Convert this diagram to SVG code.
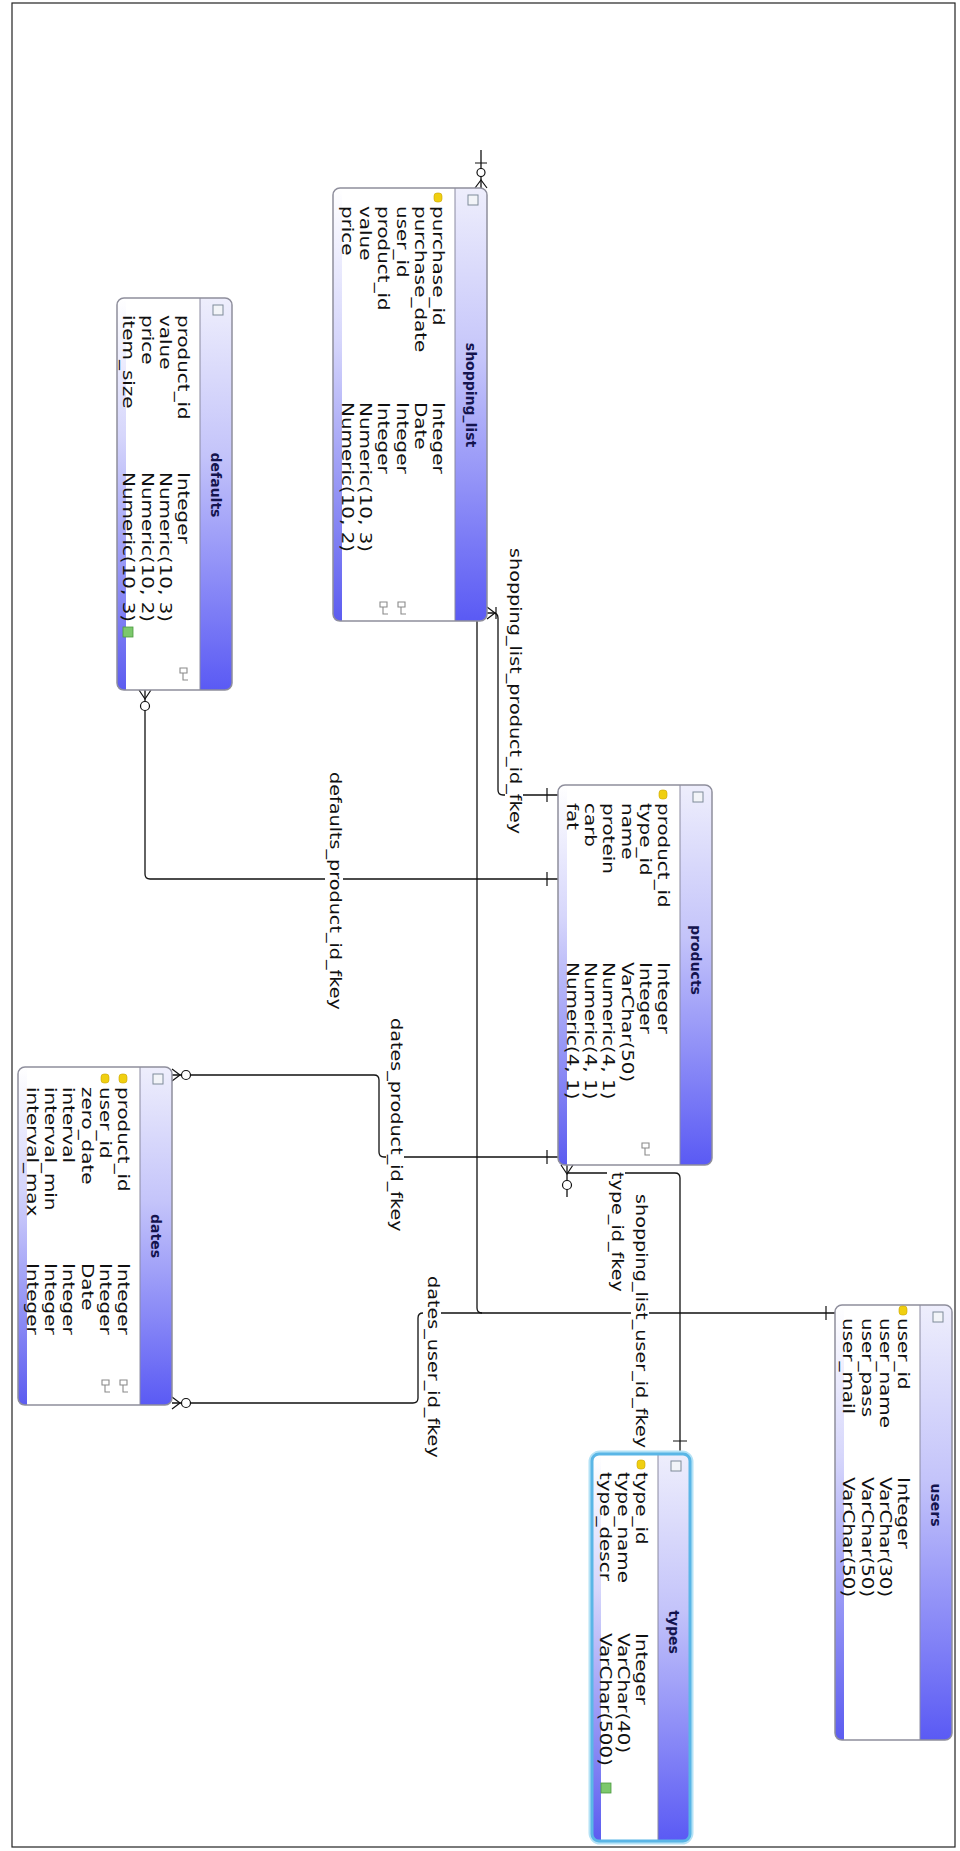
<svg xmlns="http://www.w3.org/2000/svg" width="960" height="1851" viewBox="0 0 960 1851">
<defs>
<linearGradient id="hg" x1="0" y1="0" x2="0" y2="1"><stop offset="0" stop-color="#eeeefc"/><stop offset="0.4" stop-color="#c4c4fa"/><stop offset="1" stop-color="#5a5af4"/></linearGradient>
<linearGradient id="sg" x1="0" y1="0" x2="0" y2="1"><stop offset="0" stop-color="#ffffff"/><stop offset="0.35" stop-color="#d6d6fb"/><stop offset="1" stop-color="#5c5cf0"/></linearGradient>
</defs>
<style>
.frame{fill:#fff;stroke:#222;stroke-width:1.2}
.body{fill:#fff}
.outline{fill:none;stroke:#8e8e9c;stroke-width:1.5}
.hdr{fill:url(#hg)}
.strip{fill:url(#sg)}
.sep{stroke:#8a8aa0;stroke-width:1}
.r{font-family:"DejaVu Sans",Verdana,sans-serif;font-size:15px;fill:#111}
.t{font-family:"DejaVu Sans",sans-serif;font-weight:bold;font-size:14px;fill:#14144e;text-anchor:middle}
.l{font-family:"DejaVu Sans",sans-serif;font-size:15px;fill:#111}
.lbg{fill:#fff}
.ln{fill:none;stroke:#111;stroke-width:1.3}
.mk{fill:none;stroke:#111;stroke-width:1.2}
.mc{fill:#fff;stroke:#111;stroke-width:1.2}
.key{fill:#f0cf10;stroke:#c9a400;stroke-width:0.6}
.tic{fill:#f2f4f8;stroke:#7f8b99;stroke-width:1}
.fk{fill:none;stroke:#8a8a8a;stroke-width:1.1}
.nn{fill:#7cc86c;stroke:#4c9a40;stroke-width:0.8}
.glow1{fill:none;stroke:#b4e2f6;stroke-width:7}
.glow2{fill:none;stroke:#5ab6e6;stroke-width:3}
</style>
<rect x="0" y="0" width="960" height="1851" fill="#fff"/>
<rect class="frame" x="12" y="3" width="943" height="1844"/>

<g id="connectors">
  <path class="ln" d="M481,150 V188"/>
  <path class="mk" d="M475,163 H487 M475,188 L481,180 L487,188"/>
  <circle class="mc" cx="481" cy="172.5" r="4"/>
  <path class="ln" d="M477,621 V1308 Q477,1313 482,1313 H835"/>
  <path class="ln" d="M487,613 H493 Q498,613 498,618 V790 Q498,795 503,795 H558"/>
  <path class="mk" d="M487,607 L495,613 L487,619 M496,607 V619"/>
  <path class="ln" d="M145,690 V874 Q145,879 150,879 H558"/>
  <path class="mk" d="M139,690 L145,699 L151,690"/>
  <circle class="mc" cx="145" cy="706" r="4.5"/>
  <path class="ln" d="M172,1075 H374 Q379,1075 379,1080 V1152 Q379,1157 384,1157 H558"/>
  <path class="mk" d="M172,1069 L180,1075 L172,1081"/>
  <circle class="mc" cx="186" cy="1075" r="4.5"/>
  <path class="ln" d="M172,1403 H413 Q418,1403 418,1398 V1318 Q418,1313 423,1313 H482"/>
  <path class="mk" d="M172,1397 L180,1403 L172,1409"/>
  <circle class="mc" cx="186" cy="1403" r="4.5"/>
  <path class="ln" d="M567,1165 V1197 M567,1173 H675 Q680,1173 680,1178 V1454"/>
  <path class="mk" d="M561,1165 L567,1174 L573,1165"/>
  <circle class="mc" cx="567" cy="1185" r="4.5"/>
  <path class="mk" d="M547,788 V802 M547,872 V886 M547,1150 V1164 M826,1306 V1320 M673,1441 H687"/>
  <rect class="lbg" x="505" y="546" width="18" height="292"/>
  <text class="l" transform="translate(510,548) rotate(90) scale(1.28,1)">shopping_list_product_id_fkey</text>
  <rect class="lbg" x="325" y="770" width="18" height="243"/>
  <text class="l" transform="translate(330,772) rotate(90) scale(1.28,1)">defaults_product_id_fkey</text>
  <rect class="lbg" x="386" y="1016" width="18" height="219"/>
  <text class="l" transform="translate(391,1018) rotate(90) scale(1.28,1)">dates_product_id_fkey</text>
  <rect class="lbg" x="423" y="1274" width="18" height="187"/>
  <text class="l" transform="translate(428,1276) rotate(90) scale(1.28,1)">dates_user_id_fkey</text>
  <rect class="lbg" x="607" y="1170" width="18" height="125"/>
  <text class="l" transform="translate(612,1172) rotate(90) scale(1.28,1)">type_id_fkey</text>
  <rect class="lbg" x="631" y="1192" width="18" height="260"/>
  <text class="l" transform="translate(636,1194) rotate(90) scale(1.28,1)">shopping_list_user_id_fkey</text>
</g>

<g id="shopping_list">
  <rect class="body" x="333" y="188" width="154" height="433" rx="7"/>
  <rect class="strip" x="333" y="188" width="9" height="433" rx="7"/>
  <rect class="strip" x="337" y="188" width="5" height="433"/>
  <rect class="hdr" x="455" y="188" width="32" height="433" rx="7"/>
  <rect class="hdr" x="455" y="188" width="14" height="433"/>
  <line class="sep" x1="455" y1="188" x2="455" y2="621"/>
  <rect class="outline" x="333" y="188" width="154" height="433" rx="7"/>
  <rect class="tic" x="468" y="195" width="10" height="10"/>
  <text class="t" transform="translate(466,395) rotate(90)">shopping_list</text>
  <rect class="key" x="434" y="193" width="8" height="9" rx="3"/>
  <text class="r" transform="translate(433,206) rotate(90) scale(1.33,1)">purchase_id</text>
  <text class="r" transform="translate(415,206) rotate(90) scale(1.33,1)">purchase_date</text>
  <text class="r" transform="translate(396.5,206) rotate(90) scale(1.33,1)">user_id</text>
  <text class="r" transform="translate(378,206) rotate(90) scale(1.33,1)">product_id</text>
  <text class="r" transform="translate(360,206) rotate(90) scale(1.33,1)">value</text>
  <text class="r" transform="translate(341.5,206) rotate(90) scale(1.33,1)">price</text>
  <text class="r" transform="translate(433,402) rotate(90) scale(1.33,1)">Integer</text>
  <text class="r" transform="translate(415,402) rotate(90) scale(1.33,1)">Date</text>
  <text class="r" transform="translate(396.5,402) rotate(90) scale(1.33,1)">Integer</text>
  <text class="r" transform="translate(378,402) rotate(90) scale(1.33,1)">Integer</text>
  <text class="r" transform="translate(360,402) rotate(90) scale(1.33,1)">Numeric(10, 3)</text>
  <text class="r" transform="translate(341.5,402) rotate(90) scale(1.33,1)">Numeric(10, 2)</text>
  <path class="fk" d="M398,602 h7 v5 h-7 z M401,607 v7 h5"/>
  <path class="fk" d="M380,602 h7 v5 h-7 z M383,607 v7 h5"/>
</g>

<g id="defaults">
  <rect class="body" x="117" y="298" width="115" height="392" rx="7"/>
  <rect class="strip" x="117" y="298" width="9" height="392" rx="7"/>
  <rect class="strip" x="121" y="298" width="5" height="392"/>
  <rect class="hdr" x="200" y="298" width="32" height="392" rx="7"/>
  <rect class="hdr" x="200" y="298" width="14" height="392"/>
  <line class="sep" x1="200" y1="298" x2="200" y2="690"/>
  <rect class="outline" x="117" y="298" width="115" height="392" rx="7"/>
  <rect class="tic" x="213" y="305" width="10" height="10"/>
  <text class="t" transform="translate(211,485) rotate(90)">defaults</text>
  <text class="r" transform="translate(178,315) rotate(90) scale(1.33,1)">product_id</text>
  <text class="r" transform="translate(160,315) rotate(90) scale(1.33,1)">value</text>
  <text class="r" transform="translate(141.5,315) rotate(90) scale(1.33,1)">price</text>
  <text class="r" transform="translate(123,315) rotate(90) scale(1.33,1)">item_size</text>
  <text class="r" transform="translate(178,472) rotate(90) scale(1.33,1)">Integer</text>
  <text class="r" transform="translate(160,472) rotate(90) scale(1.33,1)">Numeric(10, 3)</text>
  <text class="r" transform="translate(141.5,472) rotate(90) scale(1.33,1)">Numeric(10, 2)</text>
  <text class="r" transform="translate(123,472) rotate(90) scale(1.33,1)">Numeric(10, 3)</text>
  <rect class="nn" x="123" y="627" width="10" height="10"/>
  <path class="fk" d="M180,668 h7 v5 h-7 z M183,673 v7 h5"/>
</g>

<g id="products">
  <rect class="body" x="558" y="785" width="154" height="380" rx="7"/>
  <rect class="strip" x="558" y="785" width="9" height="380" rx="7"/>
  <rect class="strip" x="562" y="785" width="5" height="380"/>
  <rect class="hdr" x="680" y="785" width="32" height="380" rx="7"/>
  <rect class="hdr" x="680" y="785" width="14" height="380"/>
  <line class="sep" x1="680" y1="785" x2="680" y2="1165"/>
  <rect class="outline" x="558" y="785" width="154" height="380" rx="7"/>
  <rect class="tic" x="693" y="792" width="10" height="10"/>
  <text class="t" transform="translate(691,960) rotate(90)">products</text>
  <rect class="key" x="659" y="790" width="8" height="9" rx="3"/>
  <text class="r" transform="translate(658,803) rotate(90) scale(1.33,1)">product_id</text>
  <text class="r" transform="translate(640,803) rotate(90) scale(1.33,1)">type_id</text>
  <text class="r" transform="translate(621.5,803) rotate(90) scale(1.33,1)">name</text>
  <text class="r" transform="translate(603,803) rotate(90) scale(1.33,1)">protein</text>
  <text class="r" transform="translate(585,803) rotate(90) scale(1.33,1)">carb</text>
  <text class="r" transform="translate(566.5,803) rotate(90) scale(1.33,1)">fat</text>
  <text class="r" transform="translate(658,962) rotate(90) scale(1.33,1)">Integer</text>
  <text class="r" transform="translate(640,962) rotate(90) scale(1.33,1)">Integer</text>
  <text class="r" transform="translate(621.5,962) rotate(90) scale(1.33,1)">VarChar(50)</text>
  <text class="r" transform="translate(603,962) rotate(90) scale(1.33,1)">Numeric(4, 1)</text>
  <text class="r" transform="translate(585,962) rotate(90) scale(1.33,1)">Numeric(4, 1)</text>
  <text class="r" transform="translate(566.5,962) rotate(90) scale(1.33,1)">Numeric(4, 1)</text>
  <path class="fk" d="M642,1143 h7 v5 h-7 z M645,1148 v7 h5"/>
</g>

<g id="dates">
  <rect class="body" x="18" y="1067" width="154" height="338" rx="7"/>
  <rect class="strip" x="18" y="1067" width="9" height="338" rx="7"/>
  <rect class="strip" x="22" y="1067" width="5" height="338"/>
  <rect class="hdr" x="140" y="1067" width="32" height="338" rx="7"/>
  <rect class="hdr" x="140" y="1067" width="14" height="338"/>
  <line class="sep" x1="140" y1="1067" x2="140" y2="1405"/>
  <rect class="outline" x="18" y="1067" width="154" height="338" rx="7"/>
  <rect class="tic" x="153" y="1074" width="10" height="10"/>
  <text class="t" transform="translate(151,1236) rotate(90)">dates</text>
  <rect class="key" x="119" y="1074" width="8" height="9" rx="3"/>
  <rect class="key" x="101" y="1074" width="8" height="9" rx="3"/>
  <text class="r" transform="translate(118,1087) rotate(90) scale(1.33,1)">product_id</text>
  <text class="r" transform="translate(100,1087) rotate(90) scale(1.33,1)">user_id</text>
  <text class="r" transform="translate(81.5,1087) rotate(90) scale(1.33,1)">zero_date</text>
  <text class="r" transform="translate(63,1087) rotate(90) scale(1.33,1)">interval</text>
  <text class="r" transform="translate(45,1087) rotate(90) scale(1.33,1)">interval_min</text>
  <text class="r" transform="translate(26.5,1087) rotate(90) scale(1.33,1)">interval_max</text>
  <text class="r" transform="translate(118,1263) rotate(90) scale(1.33,1)">Integer</text>
  <text class="r" transform="translate(100,1263) rotate(90) scale(1.33,1)">Integer</text>
  <text class="r" transform="translate(81.5,1263) rotate(90) scale(1.33,1)">Date</text>
  <text class="r" transform="translate(63,1263) rotate(90) scale(1.33,1)">Integer</text>
  <text class="r" transform="translate(45,1263) rotate(90) scale(1.33,1)">Integer</text>
  <text class="r" transform="translate(26.5,1263) rotate(90) scale(1.33,1)">Integer</text>
  <path class="fk" d="M120,1380 h7 v5 h-7 z M123,1385 v7 h5"/>
  <path class="fk" d="M102,1380 h7 v5 h-7 z M105,1385 v7 h5"/>
</g>

<g id="users">
  <rect class="body" x="835" y="1305" width="117" height="435" rx="7"/>
  <rect class="strip" x="835" y="1305" width="9" height="435" rx="7"/>
  <rect class="strip" x="839" y="1305" width="5" height="435"/>
  <rect class="hdr" x="920" y="1305" width="32" height="435" rx="7"/>
  <rect class="hdr" x="920" y="1305" width="14" height="435"/>
  <line class="sep" x1="920" y1="1305" x2="920" y2="1740"/>
  <rect class="outline" x="835" y="1305" width="117" height="435" rx="7"/>
  <rect class="tic" x="933" y="1312" width="10" height="10"/>
  <text class="t" transform="translate(931,1505) rotate(90)">users</text>
  <rect class="key" x="899" y="1306" width="8" height="9" rx="3"/>
  <text class="r" transform="translate(898,1318) rotate(90) scale(1.33,1)">user_id</text>
  <text class="r" transform="translate(880,1318) rotate(90) scale(1.33,1)">user_name</text>
  <text class="r" transform="translate(861.5,1318) rotate(90) scale(1.33,1)">user_pass</text>
  <text class="r" transform="translate(843,1318) rotate(90) scale(1.33,1)">user_mail</text>
  <text class="r" transform="translate(898,1477) rotate(90) scale(1.33,1)">Integer</text>
  <text class="r" transform="translate(880,1477) rotate(90) scale(1.33,1)">VarChar(30)</text>
  <text class="r" transform="translate(861.5,1477) rotate(90) scale(1.33,1)">VarChar(50)</text>
  <text class="r" transform="translate(843,1477) rotate(90) scale(1.33,1)">VarChar(50)</text>
</g>

<g id="types">
  <rect class="glow1" x="592" y="1454" width="98" height="387" rx="8"/>
  <rect class="body" x="592" y="1454" width="98" height="387" rx="7"/>
  <rect class="strip" x="592" y="1454" width="9" height="387" rx="7"/>
  <rect class="strip" x="596" y="1454" width="5" height="387"/>
  <rect class="hdr" x="658" y="1454" width="32" height="387" rx="7"/>
  <rect class="hdr" x="658" y="1454" width="14" height="387"/>
  <line class="sep" x1="658" y1="1454" x2="658" y2="1841"/>
  <rect class="glow2" x="592" y="1454" width="98" height="387" rx="7"/>
  <rect class="tic" x="671" y="1461" width="10" height="10"/>
  <text class="t" transform="translate(669,1632) rotate(90)">types</text>
  <rect class="key" x="637" y="1460" width="8" height="9" rx="3"/>
  <text class="r" transform="translate(636,1472) rotate(90) scale(1.33,1)">type_id</text>
  <text class="r" transform="translate(618,1472) rotate(90) scale(1.33,1)">type_name</text>
  <text class="r" transform="translate(599.5,1472) rotate(90) scale(1.33,1)">type_descr</text>
  <text class="r" transform="translate(636,1633) rotate(90) scale(1.33,1)">Integer</text>
  <text class="r" transform="translate(618,1633) rotate(90) scale(1.33,1)">VarChar(40)</text>
  <text class="r" transform="translate(599.5,1633) rotate(90) scale(1.33,1)">VarChar(500)</text>
  <rect class="nn" x="601" y="1783" width="10" height="10"/>
</g>
</svg>
